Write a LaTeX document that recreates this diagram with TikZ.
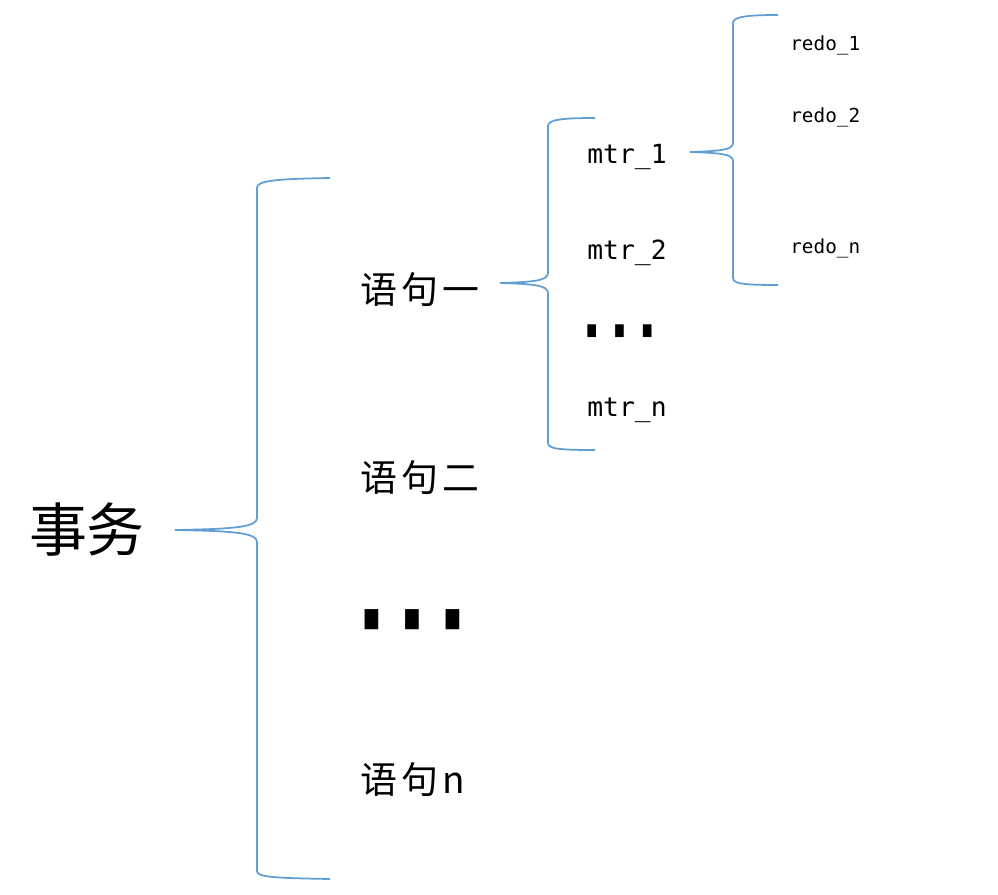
\documentclass[tikz,border=0pt]{standalone}
\usepackage{fontspec}
\newfontfamily\cjk{Noto Sans CJK SC}
\newfontfamily\cjkwide[LetterSpace=12]{Noto Sans CJK SC}
\newfontfamily\monofont{DejaVu Sans Mono}
\newfontfamily\symfont[FakeStretch=1.4]{DejaVu Sans}
\definecolor{braceblue}{RGB}{96,158,214}

\begin{document}
\begin{tikzpicture}[x=0.02cm, y=-0.02cm,
  brace/.style={draw=braceblue, line width=1pt},
  topic/.style={inner sep=0pt, font=\cjk\fontsize{33}{36}\selectfont},
  stmt/.style={anchor=west, inner sep=0pt, font=\cjkwide\fontsize{21}{24}\selectfont},
  mtr/.style={anchor=west, inner sep=0pt, font=\monofont\fontsize{15}{18}\selectfont},
  redo/.style={anchor=west, inner sep=0pt, font=\monofont\fontsize{11}{13}\selectfont},
  dotsbig/.style={anchor=west, inner sep=0pt, font=\symfont\fontsize{15}{18}\selectfont},
  dotssmall/.style={anchor=west, inner sep=0pt, font=\symfont\fontsize{9.5}{12}\selectfont}
]
\useasboundingbox[fill=white] (0,0) rectangle (998,895);

\node[topic] (shiwu) at (87,530) {事务};

\node[stmt] (s1) at (360,290) {语句一};
\node[stmt] (s2) at (360,478) {语句二};
\node[dotsbig] (sdots) at (361,620) {▮\hspace{11.5pt}▮\hspace{11.5pt}▮};
\node[stmt] (sn) at (360,780) {语句n};

\node[mtr] (m1) at (587,157) {mtr\_1};
\node[mtr] (m2) at (587,253) {mtr\_2};
\node[dotssmall] (mdots) at (585,331) {▮\hspace{8.5pt}▮\hspace{8.5pt}▮};
\node[mtr] (mn) at (587,410) {mtr\_n};

\node[redo] (r1) at (790,45) {redo\_1};
\node[redo] (r2) at (790,117) {redo\_2};
\node[redo] (rn) at (790,248) {redo\_n};

% brace tips next to the parent
\coordinate (tip1) at (175,530);
\coordinate (tip2) at (500,283);
\coordinate (tip3) at (690,152);

% transaction -> statements
\draw[brace] (330,178) .. controls (272,179) and (257,181) .. (257,188)
  -- (257,518) .. controls (257,527) and (235,529) .. (tip1)
  .. controls (235,531) and (257,533) .. (257,542)
  -- (257,871) .. controls (257,877) and (272,878) .. (330,879);

% statement -> mtr
\draw[brace] (595,118) .. controls (560,118) and (548,120) .. (548,126)
  -- (548,273) .. controls (548,281) and (532,282) .. (tip2)
  .. controls (532,284) and (548,285) .. (548,293)
  -- (548,443) .. controls (548,449) and (560,450) .. (595,450);

% mtr -> redo log
\draw[brace] (778,15) .. controls (745,15) and (733,17) .. (733,23)
  -- (733,143) .. controls (733,150) and (720,151) .. (tip3)
  .. controls (720,153) and (733,154) .. (733,161)
  -- (733,278) .. controls (733,284) and (745,285) .. (778,285);
\end{tikzpicture}
\end{document}
